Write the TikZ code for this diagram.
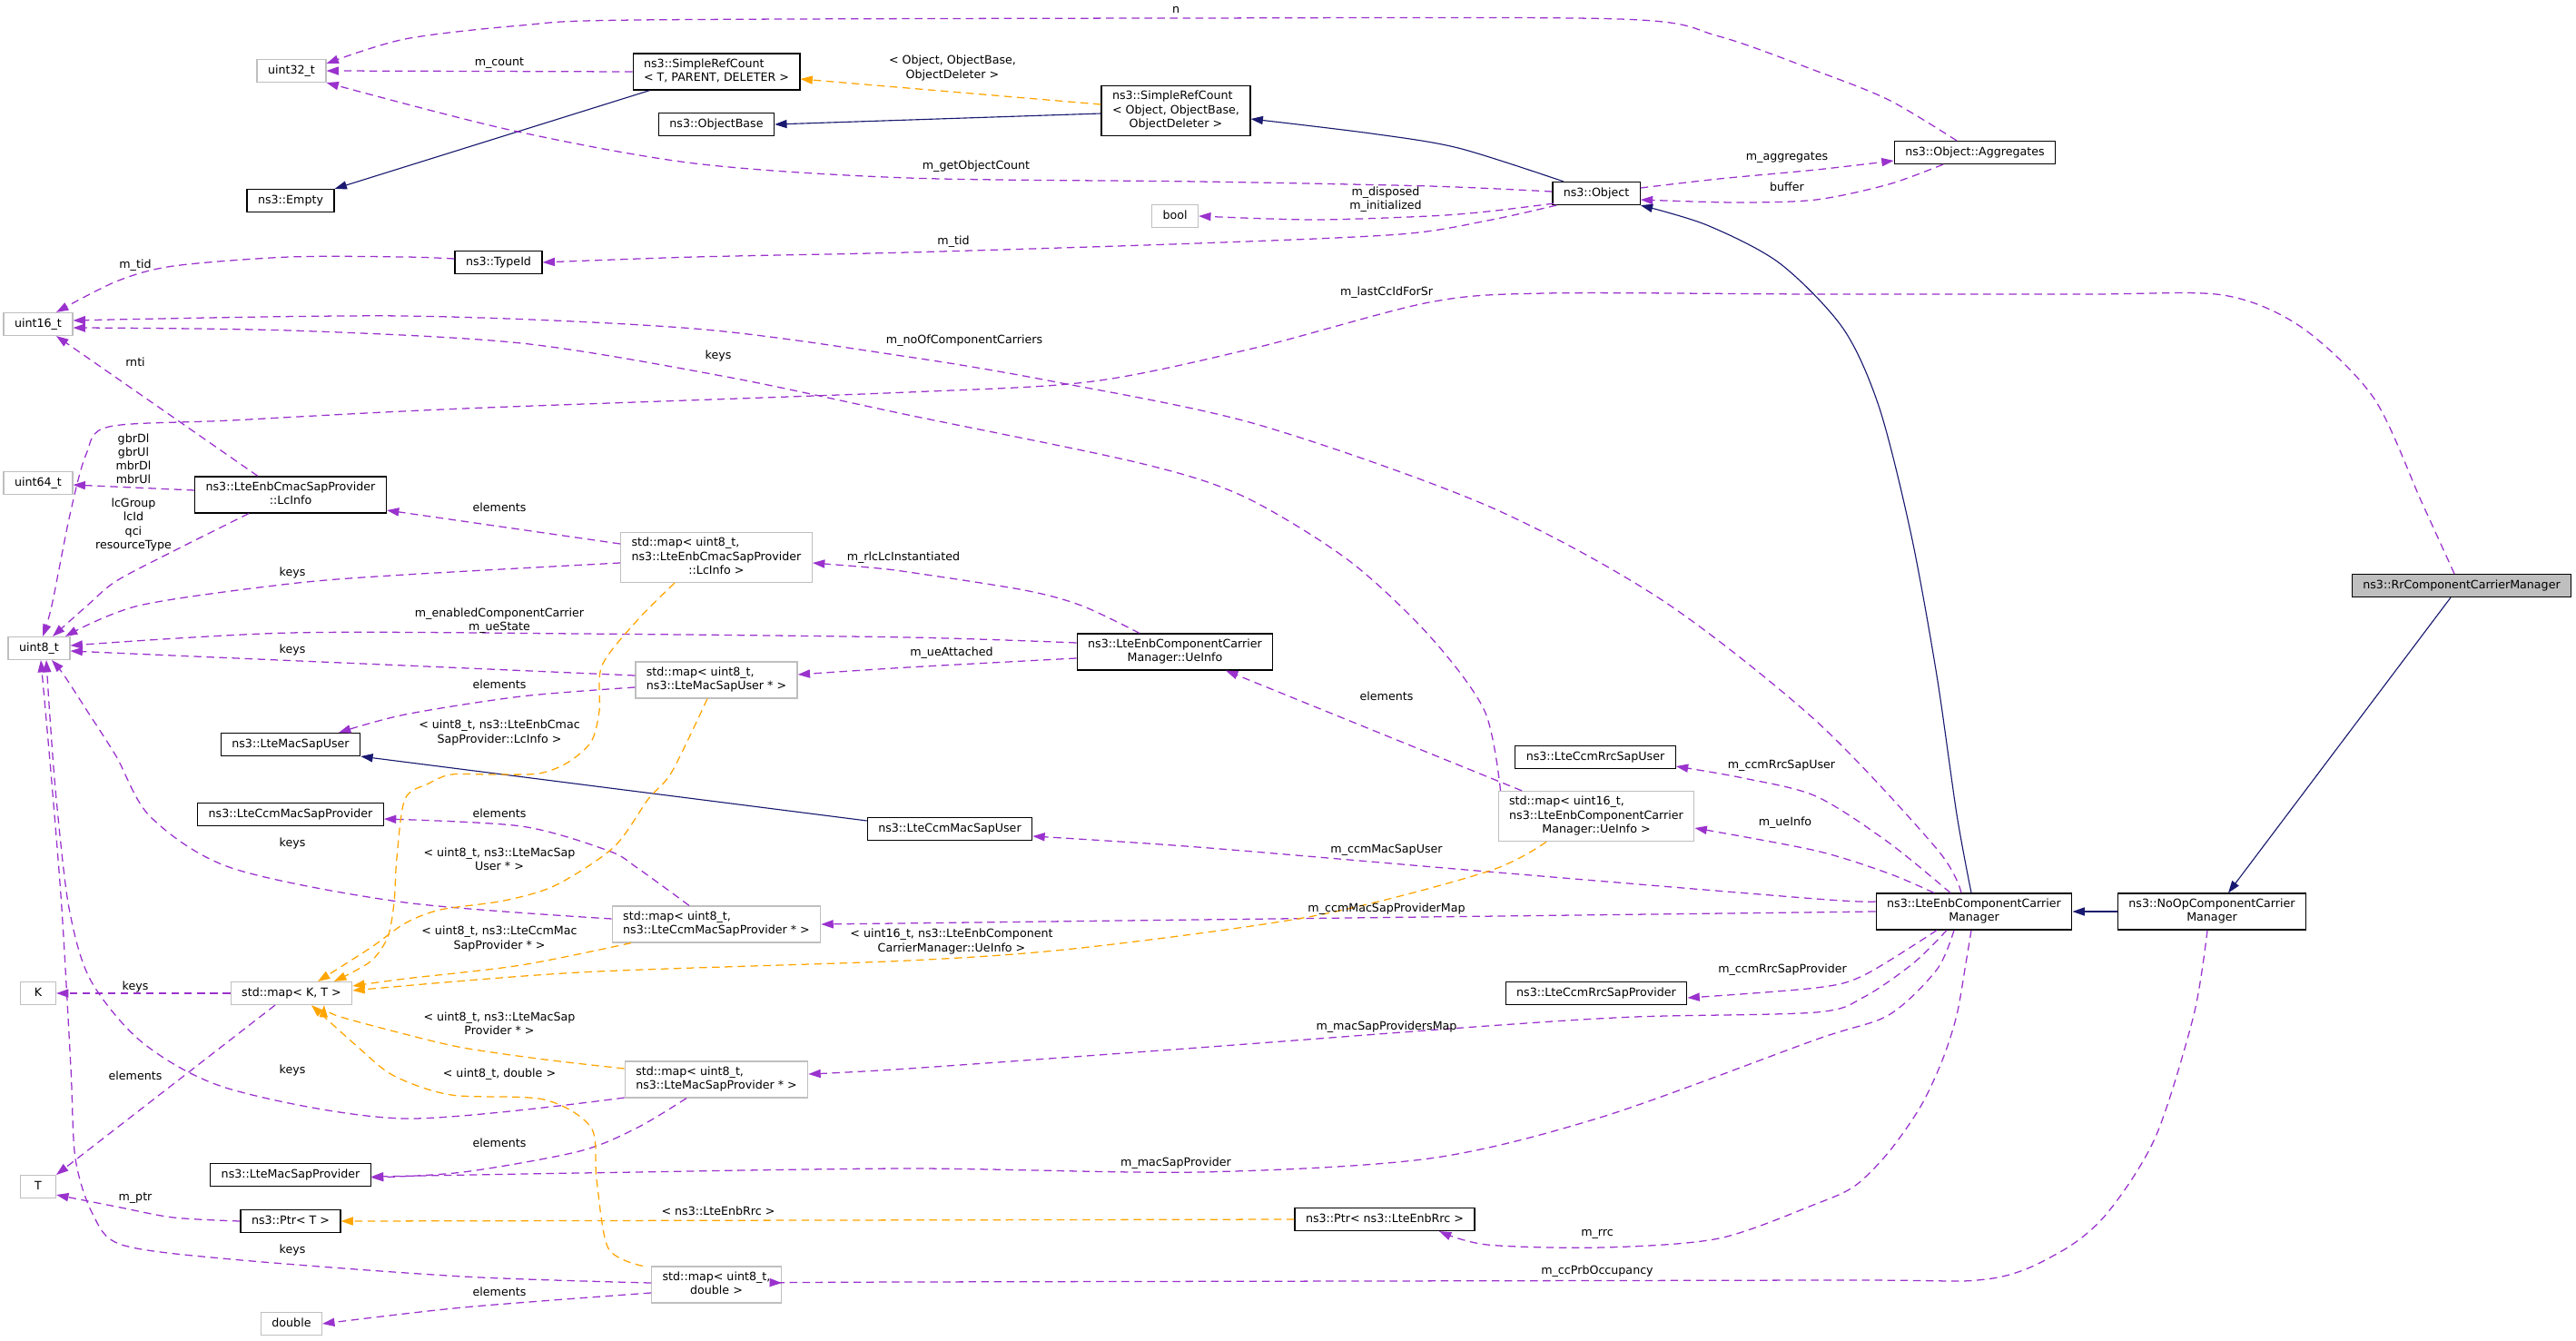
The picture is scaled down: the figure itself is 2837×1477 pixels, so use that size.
\documentclass[tikz,border=0pt]{standalone}
\usepackage{fontspec}
\setmainfont{DejaVu Sans}
\usetikzlibrary{arrows.meta,calc}

\definecolor{usecol}{HTML}{9A32CD}
\definecolor{tplcol}{HTML}{FFA500}
\definecolor{inhcol}{HTML}{191970}
\definecolor{extcol}{HTML}{BFBFBF}

\newcommand\nfont{\fontsize{9}{10.7}\selectfont}
\newcommand\tb[1]{\begin{tabular}{@{}c@{}}#1\end{tabular}}
\newcommand\lf[1]{\multicolumn{1}{@{}l@{}}{#1}}

\tikzset{
  cbox/.style={draw=black, fill=white, line width=0.9pt, font=\nfont, inner xsep=8.5pt, inner ysep=3.5pt},
  xbox/.style={cbox, draw=extcol},
  selbox/.style={cbox, fill=extcol},
  elab/.style={font=\nfont, align=center, inner sep=0pt},
  link/.style={line width=0.9pt, dash pattern=on 6pt off 4pt, -{Triangle[length=9.5pt,width=6.5pt]}},
  uses/.style={link, draw=usecol},
  tmpl/.style={link, draw=tplcol},
  inher/.style={line width=0.8pt, draw=inhcol, -{Triangle[length=9.5pt,width=6.5pt]}},
}

\begin{document}
\begin{tikzpicture}[x=0.25mm,y=-0.25mm]
\fill[white] (0,0) rectangle (2837,1477);
\useasboundingbox (0,0) rectangle (2837,1477);

% classes
\node[xbox] (uint32) at (321,78) {\tb{uint32\_t}};
\node[cbox] (srcT) at (789,79) {\tb{\lf{ns3::SimpleRefCount}\\< T, PARENT, DELETER >}};
\node[cbox] (objbase) at (789,137) {\tb{ns3::ObjectBase}};
\node[cbox] (empty) at (320,221) {\tb{ns3::Empty}};
\node[cbox] (typeid) at (549,289) {\tb{ns3::TypeId}};
\node[xbox] (u16) at (42,357) {\tb{uint16\_t}};
\node[cbox] (srcobj) at (1295,122) {\tb{\lf{ns3::SimpleRefCount}\\\lf{< Object, ObjectBase,}\\ObjectDeleter >}};
\node[cbox] (object) at (1758,213) {\tb{ns3::Object}};
\node[xbox] (bool) at (1294,238) {\tb{bool}};
\node[cbox] (aggr) at (2175,168) {\tb{ns3::Object::Aggregates}};
\node[xbox] (u64) at (42,532) {\tb{uint64\_t}};
\node[cbox] (lcinfo) at (320,545) {\tb{ns3::LteEnbCmacSapProvider\\::LcInfo}};
\node[xbox] (maplc) at (789,614) {\tb{\lf{std::map< uint8\_t,}\\ns3::LteEnbCmacSapProvider\\::LcInfo >}};
\node[xbox] (u8) at (43,714) {\tb{uint8\_t}};
\node[xbox] (mapmsu) at (789,749) {\tb{\lf{std::map< uint8\_t,}\\ns3::LteMacSapUser * >}};
\node[cbox] (macsapuser) at (320,820) {\tb{ns3::LteMacSapUser}};
\node[cbox] (ueinfo) at (1294,718) {\tb{ns3::LteEnbComponentCarrier\\Manager::UeInfo}};
\node[cbox] (rrcuser) at (1757,834) {\tb{ns3::LteCcmRrcSapUser}};
\node[xbox] (mapue) at (1758,899) {\tb{\lf{std::map< uint16\_t,}\\ns3::LteEnbComponentCarrier\\Manager::UeInfo >}};
\node[cbox] (ccmmacuser) at (1046,913) {\tb{ns3::LteCcmMacSapUser}};
\node[cbox] (ccmmacprov) at (320,897) {\tb{ns3::LteCcmMacSapProvider}};
\node[xbox] (mapccm) at (789,1018) {\tb{\lf{std::map< uint8\_t,}\\ns3::LteCcmMacSapProvider * >}};
\node[xbox,minimum width=27.7pt] (K) at (42,1094) {\tb{K}};
\node[xbox] (mapkt) at (321,1094) {\tb{std::map< K, T >}};
\node[xbox] (mapmsp) at (789,1189) {\tb{\lf{std::map< uint8\_t,}\\ns3::LteMacSapProvider * >}};
\node[xbox,minimum width=27.7pt] (T) at (42,1307) {\tb{T}};
\node[cbox] (macsapprov) at (320,1294) {\tb{ns3::LteMacSapProvider}};
\node[cbox] (ptrT) at (320,1345) {\tb{ns3::Ptr< T >}};
\node[xbox] (mapdbl) at (789,1415) {\tb{std::map< uint8\_t,\\double >}};
\node[xbox] (dbl) at (321,1458) {\tb{double}};
\node[cbox] (rrcprov) at (1758,1094) {\tb{ns3::LteCcmRrcSapProvider}};
\node[cbox] (ptrrrc) at (1525,1343) {\tb{ns3::Ptr< ns3::LteEnbRrc >}};
\node[cbox] (ccm) at (2174,1004) {\tb{ns3::LteEnbComponentCarrier\\Manager}};
\node[cbox] (noop) at (2436,1004) {\tb{ns3::NoOpComponentCarrier\\Manager}};
\node[selbox] (rr) at (2711,645) {\tb{ns3::RrComponentCarrierManager}};

% inheritance
\draw[inher] ($(srcT.south west)+(19,0)$) -- (empty.north east);
\draw[inher] ($(srcobj.west)+(0,3)$) -- (objbase.east);
\draw[inher] plot[smooth] coordinates {($(object.north)+(-36,0)$) (1606,163) (1510,147) ($(srcobj.east)+(0,9)$)};
\draw[inher] plot[smooth] coordinates {($(ccm.north)+(-3,0)$) (2155,897) (2133,744) (2105,590) (2070,450) (2030,362) (1960,290) (1880,248) (object.south east)};
\draw[inher] ($(ccmmacuser.west)+(0,-9)$) -- (macsapuser.south east);
\draw[inher] (noop.west) -- (ccm.east);
\draw[inher] ($(rr.south)+(-12,0)$) -- ($(noop.north)+(18,0)$);

% members
\draw[uses] plot[smooth] coordinates {($(aggr.north)+(-20,0)$) (2080,110) (2000,78) (1893,40) (1784,21) (1300,20) (701,22) (574,28) (446,43) ($(uint32.east)+(0,-8)$)};
\draw[uses] (srcT.west) -- (uint32.east);
\draw[uses] plot[smooth] coordinates {($(object.west)+(0,-2)$) (1574,205) (1319,200) (1000,196) (765,180) (561,143) (uint32.south east)};
\draw[uses] plot[smooth] coordinates {($(object.east)+(0,-6)$) (1893,197) (2000,187) ($(aggr.west)+(0,9)$)};
\draw[uses] plot[smooth] coordinates {($(aggr.south)+(-35,0)$) (2080,203) (2000,220) (1912,223) ($(object.east)+(0,7)$)};
\draw[uses] plot[smooth] coordinates {($(object.south west)+(2,-2)$) (1638,233) (1574,238) (1446,242) (bool.east)};
\draw[uses] plot[smooth] coordinates {($(object.south west)+(5,0)$) (1638,243) (1542,258) (1319,268) (1000,278) (765,283) (typeid.east)};
\draw[uses] plot[smooth] coordinates {($(typeid.west)+(0,-4)$) (446,283) (319,283) (191,293) (128,310) ($(u16.north)+(20,0)$)};
\draw[uses] plot[smooth] coordinates {($(rr.north)+(-8,0)$) (2667,553) (2614,438) (2534,360) (2448,325) (2300,324) (2000,324) (1702,323) (1574,333) (1383,383) (1204,420) (1000,432) (510,450) (255,463) (120,470) (95,500) (77,567) (57,667) ($(u8.north)+(4,0)$)};
\draw[uses] plot[smooth] coordinates {($(ccm.north)+(-14,0)$) (2133,935) (2000,794) (1829,660) (1638,557) (1383,467) (1159,420) (1000,393) (765,362) (446,348) ($(u16.east)+(0,-4)$)};
\draw[uses] plot[smooth] coordinates {($(mapue.north west)+(3,0)$) (1635,783) (1574,700) (1485,617) (1370,547) (1255,510) (1000,457) (800,415) (574,378) (319,364) ($(u16.east)+(0,4)$)};
\draw[uses] ($(lcinfo.north)+(-36,0)$) -- ($(u16.south)+(20,0)$);
\draw[uses] ($(lcinfo.west)+(0,-5)$) -- ($(u64.east)+(0,2)$);
\draw[uses] plot[smooth] coordinates {($(lcinfo.south)+(-46,0)$) (191,607) (128,640) (96,667) ($(u8.north)+(15,0)$)};
\draw[uses] ($(maplc.west)+(0,-15)$) -- ($(lcinfo.east)+(0,17)$);
\draw[uses] plot[smooth] coordinates {($(maplc.west)+(0,6)$) (446,633) (319,643) (153,667) ($(u8.north)+(29,0)$)};
\draw[uses] plot[smooth] coordinates {($(ueinfo.north)+(-39,0)$) (1191,667) (1128,650) (1000,630) (957,625) ($(maplc.east)+(0,6)$)};
\draw[uses] plot[smooth] coordinates {($(ueinfo.west)+(0,-10)$) (1000,702) (638,698) (319,697) ($(u8.east)+(0,-3)$)};
\draw[uses] plot[smooth] coordinates {($(ueinfo.west)+(0,7)$) (1000,735) ($(mapmsu.east)+(0,-6)$)};
\draw[uses] plot[smooth] coordinates {($(mapmsu.west)+(0,-5)$) (446,733) (191,722) ($(u8.east)+(0,3)$)};
\draw[uses] plot[smooth] coordinates {($(mapmsu.west)+(0,8)$) (574,767) (446,787) ($(macsapuser.north)+(53,0)$)};
\draw[uses] plot[smooth] coordinates {($(mapccm.north)+(-30,0)$) (702,956) (670,937) (574,910) ($(ccmmacprov.east)+(0,5)$)};
\draw[uses] plot[smooth] coordinates {($(mapccm.west)+(0,-6)$) (446,994) (255,956) (166,900) (128,833) (96,783) (70,743) ($(u8.south)+(14,0)$)};
\draw[uses] (ccm.west) -- (mapccm.east);
\draw[uses] plot[smooth] coordinates {($(ccm.west)+(0,-11)$) (2000,990) (1638,960) (1319,933) ($(ccmmacuser.east)+(0,8)$)};
\draw[uses] ($(mapue.north)+(-82,0)$) -- ($(ueinfo.south)+(56,0)$);
\draw[uses] plot[smooth] coordinates {($(ccm.north)+(-44,0)$) (2080,962) (2000,937) ($(mapue.east)+(0,13)$)};
\draw[uses] plot[smooth] coordinates {($(ccm.north)+(-26,0)$) (2080,928) (2000,877) (1920,857) ($(rrcuser.east)+(0,10)$)};
\draw[uses] plot[smooth] coordinates {($(ccm.south)+(-41,0)$) (2053,1074) (2000,1088) ($(rrcprov.east)+(0,5)$)};
\draw[uses] plot[smooth] coordinates {($(ccm.south)+(-30,0)$) (2107,1061) (2053,1098) (2000,1115) (1800,1120) (1638,1130) (1319,1154) (1000,1177) ($(mapmsp.east)+(0,-6)$)};
\draw[uses] plot[smooth] coordinates {($(ccm.south)+(-22,0)$) (2133,1068) (2080,1118) (2000,1145) (1765,1230) (1574,1276) (1319,1291) (1000,1287) (638,1292) ($(macsapprov.east)+(0,2)$)};
\draw[uses] plot[smooth] coordinates {($(mapmsp.south)+(-33,0)$) (702,1242) (638,1268) (510,1291) ($(macsapprov.east)+(0,3)$)};
\draw[uses] plot[smooth] coordinates {($(mapmsp.west)+(0,20)$) (446,1232) (255,1200) (159,1150) (100,1080) (76,1000) (62,880) (55,790) ($(u8.south)+(8,0)$)};
\draw[uses] (mapkt.west) -- (K.east);
\draw[uses] ($(mapkt.south)+(-18,0)$) -- ($(T.north)+(20,0)$);
\draw[uses] plot[smooth] coordinates {(ptrT.west) (191,1341) (128,1329) ($(T.east)+(0,9)$)};
\draw[uses] plot[smooth] coordinates {($(ccm.south)+(-3,0)$) (2165,1061) (2155,1118) (2139,1168) (2115,1219) (2080,1269) (2043,1306) (2000,1326) (1893,1364) (1765,1374) (1638,1371) ($(ptrrrc.south)+(60,0)$)};
\draw[uses] plot[smooth] coordinates {($(noop.south)+(-5,0)$) (2416,1118) (2374,1252) (2320,1337) (2267,1380) (2187,1409) (2000,1410) (1000,1412) ($(mapdbl.east)+(0,-2)$)};
\draw[uses] plot[smooth] coordinates {($(mapdbl.west)+(0,9)$) (510,1440) (dbl.east)};
\draw[uses] plot[smooth] coordinates {($(mapdbl.west)+(0,-2)$) (510,1406) (255,1387) (134,1371) (102,1337) (83,1276) (78,1176) (68,1000) (56,850) ($(u8.south)+(2,0)$)};

% template instances
\draw[tmpl] ($(srcobj.west)+(0,-7)$) -- ($(srcT.east)+(0,8)$);
\draw[tmpl] plot[smooth] coordinates {($(mapmsu.south)+(-10,0)$) (740,850) (714,880) (676,933) (612,975) (555,992) (485,1002) (446,1017) (408,1044) ($(mapkt.north)+(29,0)$)};
\draw[tmpl] plot[smooth] coordinates {($(maplc.south)+(-46,0)$) (702,683) (663,733) (660,783) (651,817) (625,840) (593,852) (542,853) (497,853) (472,863) (446,880) (437,945) (434,994) (427,1032) (408,1059) ($(mapkt.north)+(47,0)$)};
\draw[tmpl] plot[smooth] coordinates {($(mapccm.south)+(-94,0)$) (574,1063) (446,1078) ($(mapkt.east)+(0,-8)$)};
\draw[tmpl] plot[smooth] coordinates {($(mapue.south)+(-55,0)$) (1638,960) (1446,1009) (1191,1044) (1000,1058) (638,1071) ($(mapkt.east)+(0,-3)$)};
\draw[tmpl] plot[smooth] coordinates {($(mapmsp.west)+(0,-12)$) (600,1167) (510,1154) (446,1139) (369,1118) ($(mapkt.south)+(36,0)$)};
\draw[tmpl] plot[smooth] coordinates {($(mapdbl.north)+(-81,0)$) (670,1375) (657,1299) (651,1242) (599,1211) (497,1206) (434,1185) (395,1154) ($(mapkt.south)+(22,0)$)};
\draw[tmpl] (ptrrrc.west) -- (ptrT.east);

% edge labels
\node[elab] (lN) at (1295,11) {n};
\node[elab] (lCount) at (550,70) {m\_count};
\node[elab] (lSrc) at (1049,75) {< Object, ObjectBase,\\ObjectDeleter >};
\node[elab] (lObjCount) at (1075,183) {m\_getObjectCount};
\node[elab] (lAggr) at (1968,174) {m\_aggregates};
\node[elab] (lBuf) at (1968,206) {buffer};
\node[elab] (lBool) at (1526,220) {m\_disposed\\m\_initialized};
\node[elab] (lTid) at (1050,266) {m\_tid};
\node[elab] (lTid2) at (149,292) {m\_tid};
\node[elab] (lSr) at (1527,322) {m\_lastCcIdForSr};
\node[elab] (lNoCc) at (1062,375) {m\_noOfComponentCarriers};
\node[elab] (lKeys1) at (791,392) {keys};
\node[elab] (lRnti) at (149,399) {rnti};
\node[elab] (lGbr) at (147,505) {gbrDl\\gbrUl\\mbrDl\\mbrUl};
\node[elab] (lLc) at (147,578) {lcGroup\\lcId\\qci\\resourceType};
\node[elab] (lElem1) at (550,559) {elements};
\node[elab] (lKeys2) at (322,631) {keys};
\node[elab] (lRlc) at (995,614) {m\_rlcLcInstantiated};
\node[elab] (lEnab) at (550,684) {m\_enabledComponentCarrier\\m\_ueState};
\node[elab] (lAtt) at (1048,719) {m\_ueAttached};
\node[elab] (lKeys3) at (322,716) {keys};
\node[elab] (lElem2) at (550,754) {elements};
\node[elab] (lElem3) at (1527,767) {elements};
\node[elab] (lTLc) at (550,807) {< uint8\_t, ns3::LteEnbCmac\\SapProvider::LcInfo >};
\node[elab] (lUeInfo) at (1966,906) {m\_ueInfo};
\node[elab] (lRrcUser) at (1962,843) {m\_ccmRrcSapUser};
\node[elab] (lElem4) at (550,896) {elements};
\node[elab] (lKeys4) at (322,929) {keys};
\node[elab] (lTMsu) at (550,946) {< uint8\_t, ns3::LteMacSap\\User * >};
\node[elab] (lMacUser) at (1527,936) {m\_ccmMacSapUser};
\node[elab] (lProvMap) at (1527,1001) {m\_ccmMacSapProviderMap};
\node[elab] (lTCcm) at (550,1034) {< uint8\_t, ns3::LteCcmMac\\SapProvider * >};
\node[elab] (lTUe) at (1048,1037) {< uint16\_t, ns3::LteEnbComponent\\CarrierManager::UeInfo >};
\node[elab] (lRrcProv) at (1963,1068) {m\_ccmRrcSapProvider};
\node[elab] (lKeys5) at (149,1087) {keys};
\node[elab] (lTMsp) at (550,1127) {< uint8\_t, ns3::LteMacSap\\Provider * >};
\node[elab] (lProvsMap) at (1527,1131) {m\_macSapProvidersMap};
\node[elab] (lKeys6) at (322,1179) {keys};
\node[elab] (lTDbl) at (550,1183) {< uint8\_t, double >};
\node[elab] (lElem5) at (149,1185) {elements};
\node[elab] (lElem6) at (550,1259) {elements};
\node[elab] (lMacProv) at (1295,1281) {m\_macSapProvider};
\node[elab] (lPtr) at (149,1320) {m\_ptr};
\node[elab] (lTRrc) at (791,1334) {< ns3::LteEnbRrc >};
\node[elab] (lRrc) at (1759,1359) {m\_rrc};
\node[elab] (lKeys7) at (322,1377) {keys};
\node[elab] (lPrb) at (1759,1400) {m\_ccPrbOccupancy};
\node[elab] (lElem7) at (550,1423) {elements};
\end{tikzpicture}
\end{document}
